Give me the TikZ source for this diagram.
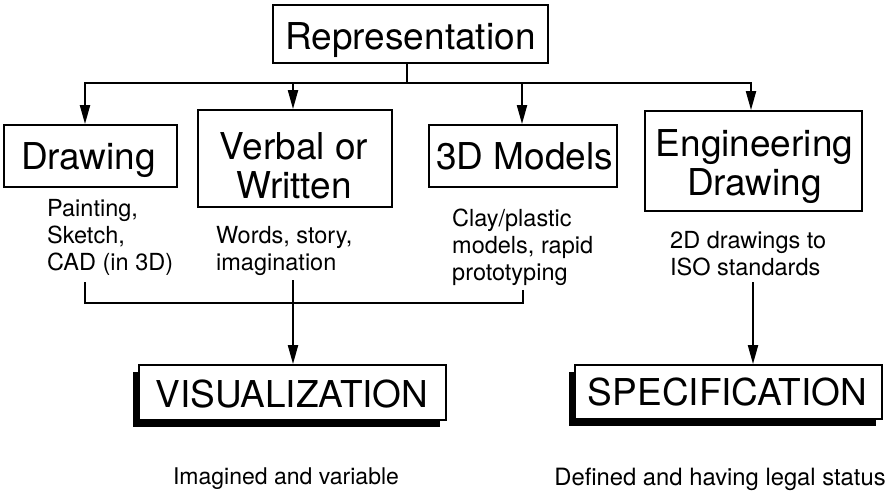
\documentclass[tikz,border=0pt]{standalone}
\usepackage{fontspec}
\setmainfont{TeX Gyre Heros}
\usetikzlibrary{arrows.meta,shadows}
\begin{document}
\begin{tikzpicture}[x=1pt,y=-1pt,
  box/.style={draw, line width=1.8pt, fill=white, inner sep=0pt},
  shbox/.style={box, drop shadow={shadow xshift=-6pt, shadow yshift=-7pt, fill=black, opacity=1}},
  lbl/.style={inner sep=0pt, font=\fontsize{37}{39}\selectfont, align=center},
  note/.style={inner sep=0pt, anchor=north west, align=left, font=\fontsize{23.5}{27}\selectfont},
  capt/.style={inner sep=0pt},
  arr/.style={line width=2pt, -{Triangle[length=19pt,width=10pt]}},
  con/.style={line width=2pt}
]
\fill[white] (0,0) rectangle (888,490);
\useasboundingbox (0,0) rectangle (888,490);

% boxes
\node[box, minimum width=275pt, minimum height=58pt] (rep) at (410.5,34) {};
\node[box, minimum width=173pt, minimum height=62pt] (drw) at (90.5,156) {};
\node[box, minimum width=194pt, minimum height=97pt] (vrb) at (295,158.5) {};
\node[box, minimum width=188pt, minimum height=62pt] (mod) at (523,156) {};
\node[box, minimum width=217pt, minimum height=100pt] (eng) at (753.5,161) {};
\node[shbox, minimum width=307pt, minimum height=55pt] (vis) at (292.5,392.5) {};
\node[shbox, minimum width=307pt, minimum height=54pt] (spec) at (728.5,392) {};

% box labels
\node[lbl] (repT) at (410.5,40) {Representation};
\node[lbl] (drwT) at (88.5,160.5) {Drawing};
\node[lbl] (vrbT) at (294,165.5) {Verbal or\\Written};
\node[lbl] (modT) at (524.5,156.5) {3D Models};
\node[lbl] (engT) at (754.5,167) {Engineering\\Drawing};
\node[lbl] (visT) at (292,394) {VISUALIZATION};
\node[lbl] (specT) at (727.5,392.5) {SPECIFICATION};

% notes
\node[note] (n1) at (47,199) {Painting,\\Sketch,\\CAD (in 3D)};
\node[note] (n2) at (216,226) {Words, story,\\imagination};
\node[note] (n3) at (452,209) {Clay/plastic\\models, rapid\\prototyping};
\node[note] (n4) at (670,231) {2D drawings to\\ISO standards};

% captions
\node[capt, font=\fontsize{23}{27}\selectfont] (c1) at (286,479) {Imagined and variable};
\node[capt, font=\fontsize{23.8}{27}\selectfont] (c2) at (720,479) {Defined and having legal status};

% connectors (top)
\coordinate (hub) at (407,83);
\coordinate (b1) at (85,83);
\coordinate (b2) at (293,83);
\coordinate (b3) at (522,83);
\coordinate (b4) at (751,83);
\draw[con] (rep.south -| hub) -- (hub);
\draw[con, line cap=rect] (b1) -- (b4);
\draw[arr] (b1) -- (b1 |- drw.north);
\draw[arr] (b2) -- (b2 |- vrb.north);
\draw[arr] (b3) -- (b3 |- mod.north);
\draw[arr] (b4) -- (b4 |- eng.north);

% bracket and lower arrows
\coordinate (k1) at (85,282);
\coordinate (k2) at (523,290);
\coordinate (kb) at (293,303);
\coordinate (k3) at (293,280);
\coordinate (k4) at (753,282);
\draw[con] (k1) |- (kb) -| (k2);
\draw[arr] (k3) -- (k3 |- vis.north);
\draw[arr] (k4) -- (k4 |- spec.north);
\end{tikzpicture}
\end{document}
